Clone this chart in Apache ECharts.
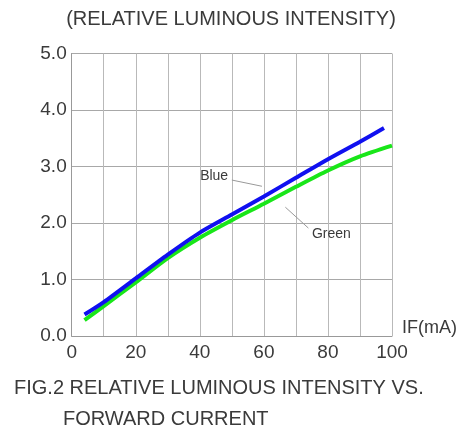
<!DOCTYPE html>
<html>
<head>
<meta charset="utf-8">
<script src="https://cdn.jsdelivr.net/npm/echarts@6/dist/echarts.min.js"></script>
<style>
  html, body { margin: 0; padding: 0; background: #fff; }
  #chart { width: 462px; height: 434px; }
</style>
</head>
<body>
<div id="chart"></div>
<script>
// forward current (mA) and relative luminous intensity
const blueIf = [4, 10, 20, 30, 40, 50, 60, 70, 80, 90, 97.5]
const blueVals = [0.38, 0.60, 1.02, 1.44, 1.83, 2.15, 2.47, 2.80, 3.13, 3.44, 3.68]
const greenIf = [4, 10, 20, 30, 40, 50, 60, 70, 80, 90, 100]
const greenVals = [0.28, 0.53, 0.95, 1.38, 1.74, 2.05, 2.34, 2.64, 2.93, 3.18, 3.37]
const xTickLabels = ['0', '20', '40', '60', '80', '100']

// annotation text + leader line, in data coords
const labels = [
  { text: 'Blue', at: [40.1, 2.83], from: [50.0, 2.76], to: [59.4, 2.65] },
  { text: 'Green', at: [75.0, 1.81], from: [66.7, 2.28], to: [73.9, 1.91] }
]

const font = 'Arial, "Liberation Sans", sans-serif'
const textColor = '#3a3a3a'
const gridColor = '#b9b9b9'

const chart = echarts.init(document.getElementById('chart'))

const pairs = (xs, ys) => xs.map((x, i) => [x, ys[i]])

chart.setOption({
  animation: false,
  grid: {
    left: 71.7, top: 53.5, right: 70, bottom: 98,
    containLabel: false,
    outerBoundsMode: 'none'
  },
  xAxis: {
    type: 'value',
    min: 0,
    max: 100,
    interval: 10,
    axisLine: { lineStyle: { color: '#999', width: 1 } },
    axisTick: { show: false },
    axisLabel: {
      color: textColor,
      fontFamily: font,
      fontSize: 19,
      margin: 7,
      formatter: v => xTickLabels.includes(String(v)) ? String(v) : ''
    },
    splitLine: { show: true, lineStyle: { color: gridColor, width: 1 } }
  },
  yAxis: {
    type: 'value',
    min: 0,
    max: 5,
    interval: 1,
    axisLine: { show: true, lineStyle: { color: '#999', width: 1 } },
    axisTick: { show: false },
    axisLabel: {
      color: textColor,
      fontFamily: font,
      fontSize: 19,
      margin: 5,
      formatter: v => v.toFixed(1)
    },
    splitLine: { show: true, lineStyle: { color: '#a8a8a8', width: 1 } }
  },
  series: [
    {
      name: 'Green',
      type: 'line',
      data: pairs(greenIf, greenVals),
      smooth: 0.25,
      symbol: 'none',
      lineStyle: { color: '#19e619', width: 4 }
    },
    {
      name: 'Blue',
      type: 'line',
      data: pairs(blueIf, blueVals),
      smooth: 0.25,
      symbol: 'none',
      lineStyle: { color: '#1010f0', width: 4 }
    }
  ]
})

// titles, axis name and annotations
const toPx = p => chart.convertToPixel({ gridIndex: 0 }, p)
const axisEnd = toPx([100, 0])
const elements = [
  {
    type: 'text', left: 'center', top: 9,
    style: { text: '(RELATIVE LUMINOUS INTENSITY)', fill: textColor, font: '20px ' + font }
  },
  {
    type: 'text', left: 14, top: 378,
    style: { text: 'FIG.2 RELATIVE LUMINOUS INTENSITY VS.', fill: textColor, font: '20px ' + font }
  },
  {
    type: 'text', left: 63, top: 409,
    style: { text: 'FORWARD CURRENT', fill: textColor, font: '20px ' + font }
  },
  {
    type: 'text', x: axisEnd[0] + 10, y: axisEnd[1] - 8,
    style: { text: 'IF(mA)', fill: textColor, font: '18px ' + font, verticalAlign: 'middle' }
  }
]
labels.forEach(l => {
  const a = toPx(l.at)
  const f = toPx(l.from)
  const t = toPx(l.to)
  elements.push({
    type: 'text', x: a[0], y: a[1],
    style: { text: l.text, fill: textColor, font: '14px ' + font, verticalAlign: 'middle' }
  })
  elements.push({
    type: 'line',
    shape: { x1: f[0], y1: f[1], x2: t[0], y2: t[1] },
    style: { stroke: '#999', lineWidth: 1 }
  })
})
chart.setOption({ graphic: elements })
</script>
</body>
</html>
